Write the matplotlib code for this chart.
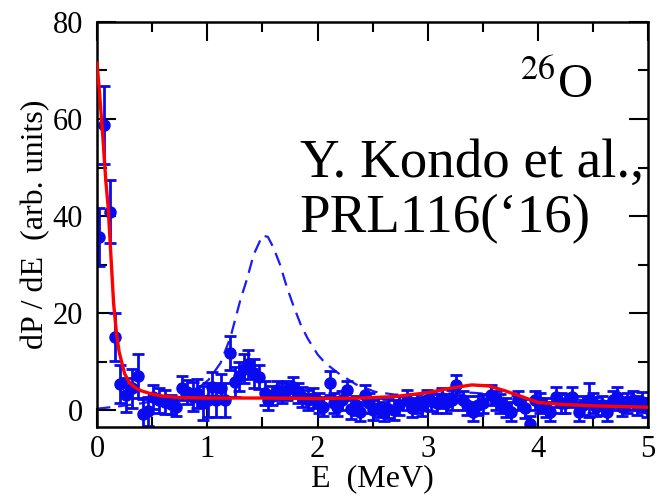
import matplotlib
matplotlib.use('Agg')
import matplotlib.pyplot as plt
from matplotlib.ticker import MultipleLocator

plt.rcParams['font.family'] = ['Liberation Serif', 'DejaVu Serif']

# measured spectrum (Kondo et al.)
e_data = [0.02, 0.06, 0.12, 0.16, 0.21, 0.26, 0.32, 0.37, 0.42, 0.46,
          0.51, 0.56, 0.62, 0.67, 0.72, 0.77, 0.82, 0.87, 0.91, 0.96,
          1.01, 1.04, 1.08, 1.12, 1.16, 1.21, 1.25, 1.29, 1.33, 1.37,
          1.42, 1.47, 1.52, 1.55, 1.59, 1.63, 1.68, 1.72, 1.78, 1.82,
          1.86, 1.91, 1.96, 2.01, 2.05, 2.11, 2.15, 2.18, 2.22, 2.27,
          2.30, 2.35, 2.39, 2.43, 2.47, 2.50, 2.55, 2.60, 2.64, 2.69,
          2.74, 2.81, 2.86, 2.90, 2.95, 2.99, 3.03, 3.08, 3.13, 3.17,
          3.22, 3.26, 3.32, 3.36, 3.41, 3.46, 3.50, 3.57, 3.62, 3.66,
          3.71, 3.76, 3.82, 3.88, 3.93, 3.97, 4.02, 4.07, 4.11, 4.16,
          4.21, 4.25, 4.31, 4.37, 4.41, 4.46, 4.50, 4.53, 4.58, 4.63,
          4.68, 4.72, 4.76, 4.81, 4.86, 4.90, 4.94, 4.99]
p_data = [35.7, 58.8, 40.9, 15.1, 5.4, 3.1, 4.5, 7.0, -0.7, -0.2,
          2.7, 2.0, 1.7, 1.2, 0.7, 4.5, 3.8, 2.8, 3.5, 1.5,
          2.0, 4.8, 2.0, 4.5, 2.0, 11.7, 5.8, 7.0, 8.5, 9.5,
          7.6, 6.8, 3.5, 2.0, 3.0, 4.1, 3.5, 4.1, 4.8, 3.5,
          2.7, 2.1, 2.5, 1.5, 0.7, 5.6, 1.5, 0.7, 2.0, 4.1,
          0.2, 1.0, -0.3, 3.1, 1.5, 0.0, 0.5, -0.3, 0.3, 0.0,
          1.0, 2.1, 0.5, 1.4, 0.8, 2.1, 1.8, 1.4, 2.5, 1.4,
          2.1, 5.2, 2.0, 1.0, -0.3, 1.0, 1.4, 3.1, 2.0, 1.4,
          0.5, -0.3, 2.0, 0.4, -2.8, 2.0, 1.5, 0.5, -0.3, 2.7,
          1.5, 1.4, 2.7, -0.3, 1.0, 2.0, 1.5, 0.7, 1.0, -0.3,
          2.0, 2.7, 0.7, 1.5, 2.0, 1.0, 1.7, 0.5]
p_err = [6, 8, 6.5, 5, 4, 3.5, 4, 4.5, 3, 3,
         2.5, 2.5, 2.5, 2, 2, 2.5, 2.5, 3, 3, 3.5,
         3.5, 3, 3.5, 3, 3.5, 3.5, 3, 3, 3, 3,
         3, 2.5, 2.5, 2, 2, 2, 2, 2, 2, 2,
         2, 2, 2, 2, 2, 2.5, 2, 2, 2, 2,
         2, 2, 2, 2, 2, 2, 2, 2, 2, 2,
         2, 2, 2, 2, 2, 2, 2, 2, 2, 2,
         2, 2, 2, 2, 2, 2, 2, 2, 2, 2,
         2, 2, 2, 2, 1.5, 2, 2, 2, 2, 2,
         2, 2, 2, 2, 2, 3.5, 2, 2, 2, 2,
         2, 2, 2, 2, 2, 2, 2, 2]

# theory curve (red, solid)
e_fit = [0.0, 0.02, 0.05, 0.08, 0.10, 0.125, 0.15, 0.175, 0.20, 0.25,
         0.30, 0.35, 0.40, 0.50, 0.60, 0.75, 1.0, 1.5, 2.0, 2.4,
         2.7, 3.0, 3.2, 3.4, 3.55, 3.7, 3.85, 4.0, 4.2, 4.5, 5.0]
p_fit = [71.5, 66, 57, 47, 42, 32, 22, 16, 12, 7.5,
         5.5, 4.6, 4.0, 3.3, 2.9, 2.6, 2.5, 2.5, 2.4, 2.5,
         2.8, 3.6, 4.5, 5.2, 5.0, 4.0, 2.8, 1.6, 1.2, 0.9, 0.6]

# alternative curve (blue, dashed)
e_alt = [0.0, 0.2, 0.4, 0.6, 0.8, 0.92, 1.01, 1.12, 1.21, 1.30,
         1.36, 1.42, 1.50, 1.55, 1.60, 1.66, 1.72, 1.78, 1.85, 1.91,
         2.0, 2.07, 2.19, 2.35, 2.52, 2.7, 3.0, 3.4, 4.0, 5.0]
p_alt = [0.3, 0.8, 1.4, 2.3, 3.3, 4.6, 6.2, 9.7, 15, 22.7,
         27, 32, 36, 35.7, 33.5, 30, 25.5, 21.6, 17.5, 14.8,
         11.5, 9.7, 7.6, 5.3, 3.8, 3.2, 3.3, 3.6, 2.5, 1.5]

fig = plt.figure(figsize=(6.56, 4.99), dpi=100)
ax = fig.add_axes([0.148, 0.144, 0.840, 0.812])

ax.plot(e_alt, p_alt, color='#1a1aff', lw=1.6, dashes=(6, 3.5), zorder=1)
ax.errorbar(e_data, p_data, yerr=p_err, fmt='o', color='#0a0af0', ms=8,
            elinewidth=2.0, capsize=4, capthick=2.0, zorder=2)
ax.plot(e_fit, p_fit, color='#ff0000', lw=2.4, zorder=3)

ax.set_xlim(0, 5)
ax.set_ylim(-3.5, 80)
ax.xaxis.set_major_locator(MultipleLocator(1))
ax.xaxis.set_minor_locator(MultipleLocator(0.5))
ax.yaxis.set_major_locator(MultipleLocator(20))
ax.yaxis.set_minor_locator(MultipleLocator(10))
ax.tick_params(which='both', direction='in', top=True, right=True,
               width=1.5, labelsize=22)
ax.tick_params(which='major', length=14)
ax.tick_params(which='minor', length=7)
ax.tick_params(axis='x', pad=6)
ax.tick_params(axis='y', pad=10)
for s in ax.spines.values():
    s.set_linewidth(1.8)

ax.set_xlabel('E  (MeV)', fontsize=23, labelpad=0)
ax.set_ylabel('dP / dE  (arb. units)', fontsize=23, labelpad=2)

ax.text(0.768, 0.812, r'$^{26}$O', transform=ax.transAxes, fontsize=35,
        ha='left', va='baseline', math_fontfamily='stix')
ax.text(0.368, 0.617, 'Y. Kondo et al.,', transform=ax.transAxes,
        fontsize=39.5, ha='left', va='baseline')
ax.text(0.368, 0.481, 'PRL116(‘16)', transform=ax.transAxes,
        fontsize=39.5, ha='left', va='baseline')

fig.savefig('out.png', dpi=100)
